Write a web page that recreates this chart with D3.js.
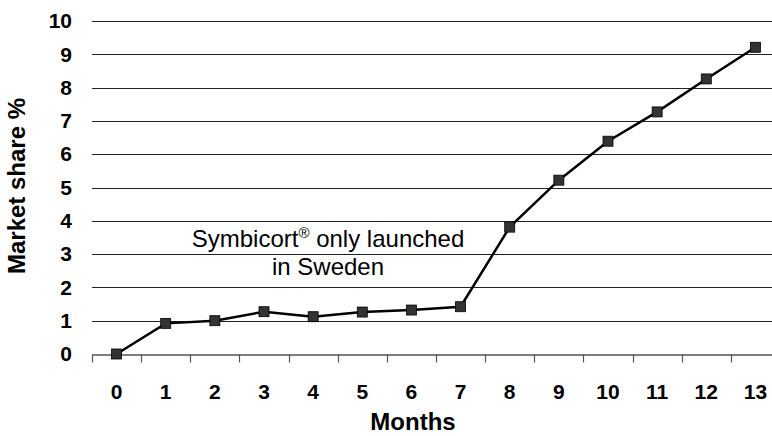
<!DOCTYPE html>
<html>
<head>
<meta charset="utf-8">
<script src="https://cdn.jsdelivr.net/npm/d3@7"></script>
<style>
  body { margin: 0; background: #fff; }
  svg { font-family: 'Liberation Sans', Arial, sans-serif; }
</style>
</head>
<body>
<svg id="chart" width="772" height="436"></svg>
<script>
// DATA
const months = [0, 1, 2, 3, 4, 5, 6, 7, 8, 9, 10, 11, 12, 13];
const marketShare = [0, 0.92, 1.0, 1.27, 1.12, 1.26, 1.32, 1.42, 3.81, 5.22, 6.39, 7.27, 8.26, 9.21];
const yTicks = [0, 1, 2, 3, 4, 5, 6, 7, 8, 9, 10];
const noteLines = ['Symbicort', 'in Sweden'];

// SETUP
let svg = d3.select('svg'),
  margin = { left: 92, right: -8, top: 21, bottom: 82 },
  width = 772 - margin.left - margin.right,
  height = 436 - margin.top - margin.bottom;

let x = d3.scaleBand().domain(months).range([0, width]),
  y = d3.scaleLinear().domain([0, 10]).range([height, 0]);

let g = svg.append('g')
  .attr('transform', 'translate(' + margin.left + ',' + margin.top + ')');

// GRIDLINES
g.append('g')
  .selectAll('line')
  .data(yTicks.filter(d => d > 0))
  .enter()
  .append('line')
  .attr('x1', 0)
  .attr('x2', width)
  .attr('y1', d => Math.round(y(d)) + 0.5)
  .attr('y2', d => Math.round(y(d)) + 0.5)
  .attr('stroke', '#222')
  .attr('stroke-width', 1.2);

// X AXIS
let xAxis = g.append('g')
  .attr('transform', 'translate(0,' + (Math.round(height) + 0.5) + ')')
  .call(d3.axisBottom(x).tickSize(0).tickPadding(30));
xAxis.select('.domain').attr('stroke', '#555').attr('stroke-width', 1.5);
xAxis.selectAll('text')
  .attr('font-size', 21)
  .attr('font-weight', 'bold')
  .attr('font-family', 'Liberation Sans, Arial, sans-serif')
  .attr('fill', '#000');

// tick marks sit between categories
xAxis.append('g')
  .selectAll('line')
  .data(months.concat([months.length]))
  .enter()
  .append('line')
  .attr('x1', (d, i) => Math.round(i * x.step()) + 0.5)
  .attr('x2', (d, i) => Math.round(i * x.step()) + 0.5)
  .attr('y1', 0)
  .attr('y2', 8)
  .attr('stroke', '#555')
  .attr('stroke-width', 1.2);

// Y AXIS
let yAxis = g.append('g')
  .call(d3.axisLeft(y).tickValues(yTicks).tickSize(0).tickPadding(20));
yAxis.select('.domain').remove();
yAxis.selectAll('text')
  .attr('font-size', 21)
  .attr('font-weight', 'bold')
  .attr('font-family', 'Liberation Sans, Arial, sans-serif')
  .attr('fill', '#000');

// AXIS TITLES
svg.append('text')
  .attr('x', 413)
  .attr('y', 430)
  .attr('text-anchor', 'middle')
  .attr('font-size', 24)
  .attr('font-weight', 'bold')
  .text('Months');

svg.append('text')
  .attr('transform', 'translate(25,186) rotate(-90)')
  .attr('text-anchor', 'middle')
  .attr('font-size', 24)
  .attr('font-weight', 'bold')
  .text('Market share %');

// LINE
let line = d3.line()
  .x((d, i) => x(months[i]) + x.bandwidth() / 2)
  .y(d => y(d));

g.append('path')
  .datum(marketShare)
  .attr('fill', 'none')
  .attr('stroke', '#000')
  .attr('stroke-width', 2.5)
  .attr('d', line);

g.append('g')
  .selectAll('rect')
  .data(marketShare)
  .enter()
  .append('rect')
  .attr('x', (d, i) => x(months[i]) + x.bandwidth() / 2 - 5)
  .attr('y', d => y(d) - 5)
  .attr('width', 10)
  .attr('height', 10)
  .attr('fill', '#333')
  .attr('stroke', '#000')
  .attr('stroke-width', 0.8);

// NOTE
let note = svg.append('text')
  .attr('text-anchor', 'middle')
  .attr('font-size', 24)
  .attr('fill', '#000');
let l1 = note.append('tspan').attr('x', 328).attr('y', 247).text(noteLines[0]);
note.append('tspan').attr('dy', -9).attr('font-size', 15).text('®');
note.append('tspan').attr('dy', 9).text(' only launched');
note.append('tspan').attr('x', 328).attr('y', 274.5).text(noteLines[1]);
</script>
</body>
</html>
